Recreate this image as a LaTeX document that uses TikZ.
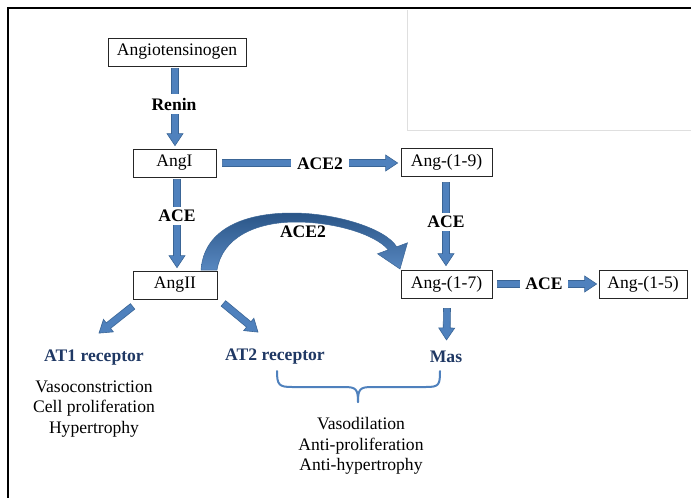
\documentclass[tikz,border=0pt]{standalone}
\usepackage{fontspec}
\setmainfont{Liberation Serif}
\usetikzlibrary{calc}
\definecolor{arrfill}{HTML}{4F81BD}
\definecolor{arrline}{HTML}{3A6596}
\definecolor{navy}{HTML}{1F3864}
\definecolor{arcdark}{HTML}{2A5587}
\tikzset{
  box/.style={draw=black!85, line width=0.8pt, inner sep=0pt, minimum height=28pt, font=\fontsize{17.6}{20}\selectfont},
  lab/.style={fill=white, inner xsep=6pt, inner ysep=3.5pt, font=\fontsize{17.6}{20}\selectfont\bfseries},
  rec/.style={inner sep=0pt, text=navy, font=\fontsize{17.6}{20}\selectfont\bfseries},
  txt/.style={inner sep=0pt, align=center, font=\fontsize{17.6}{20.5}\selectfont},
  blockarrow/.style={fill=arrfill, draw=arrline, line width=0.6pt, line join=miter},
}
\newcommand\blockarr[3][]{%
  \path let \p1=(#2), \p2=(#3) in \pgfextra{%
     \pgfmathsetmacro\tmpa{atan2(\y2-\y1,\x2-\x1)}%
     \pgfmathsetmacro\tmpl{veclen(\x2-\x1,\y2-\y1)}%
     \pgfmathsetmacro\tmpx{\x1}\pgfmathsetmacro\tmpy{\y1}%
     \xdef\baAng{\tmpa}\xdef\baLen{\tmpl}\xdef\baX{\tmpx}\xdef\baY{\tmpy}};
  \begin{scope}[shift={(\baX pt,\baY pt)}, rotate=\baAng]
    \filldraw[blockarrow,#1] (0pt,-3.5pt) -- ({\baLen pt-12pt},-3.5pt) -- ({\baLen pt-12pt},-8pt)
      -- (\baLen pt,0pt) -- ({\baLen pt-12pt},8pt) -- ({\baLen pt-12pt},3.5pt) -- (0pt,3.5pt) -- cycle;
  \end{scope}}
\begin{document}
\begin{tikzpicture}[x=1pt,y=-1pt]
\useasboundingbox (0,0) rectangle (691,498);
\fill[white] (0,0) rectangle (691,498);
% frame
\draw[gray!25, line width=0.8pt] (407,10) -- (407,130) -- (691,130);
\draw[black, line width=2.6pt] (691,8) -- (8,8) -- (8,498);
% boxes
\node[box, minimum width=138pt] (ag) at (177,52) {Angiotensinogen};
\node[box, minimum width=83pt] (a1) at (174.5,163) {AngI};
\node[box, minimum width=84pt] (a2) at (175,285) {AngII};
\node[box, minimum width=91pt] (a19) at (446.5,162) {Ang-(1-9)};
\node[box, minimum width=91pt] (a17) at (446.5,284) {Ang-(1-7)};
\node[box, minimum width=88pt] (a15) at (643,284) {Ang-(1-5)};
% receptor labels
\node[rec] (at1) at (94,358) {AT1 receptor};
\node[rec] (at2) at (275,357) {AT2 receptor};
\node[rec] (mas) at (446,357) {Mas};
\node[txt] (eff1) at (94,409) {Vasoconstriction\\Cell proliferation\\Hypertrophy};
\node[txt] (eff2) at (361,446) {Vasodilation\\Anti-proliferation\\Anti-hypertrophy};
% straight block arrows
\blockarr{$(ag.south)+(-2,2)$}{$(a1.north)+(0.5,-3)$}
\blockarr{$(a1.south)+(2.5,2)$}{$(a2.north)+(2,-3)$}
\blockarr{$(a1.east)+(6,0)$}{$(a19.west)+(-3,1)$}
\blockarr{$(a19.south)+(-0.5,6)$}{$(a17.north)+(-0.5,-4)$}
\blockarr{$(a17.east)+(5,0)$}{$(a15.west)+(-2,0)$}
\blockarr{$(a17.south)+(0.5,10)$}{$(mas.north)+(0.5,-11)$}
\blockarr{$(a2.south west)+(0,7)$}{$(at1.north)+(5,-17)$}
\blockarr{$(a2.south east)+(6,4)$}{$(at2.north)+(-17,-17)$}
% labels on arrows
\node[lab] (renin) at (174,104) {Renin};
\node[lab] (ace1) at (177,216) {ACE};
\node[lab] (ace2a) at (320,164) {ACE2};
\node[lab] (ace3) at (446,222) {ACE};
\node[lab, inner xsep=5pt] (ace4) at (544,284) {ACE};
% curved ACE2 arrow
\path[top color=arcdark, bottom color=arrfill!95, draw=arrline, line width=0.5pt, line join=miter]
  (201,270) .. controls (204,228) and (246,213) .. (292,213)
  .. controls (335,213) and (385,228) .. (396.7,246.8)
  -- (407.5,242.8) -- (400,269) -- (377.5,253.8) -- (388.3,249.8)
  .. controls (375,234) and (334,222) .. (296,222)
  .. controls (255,222) and (222,238) .. (217,270) -- cycle;
\node[lab, fill=none] (ace2b) at (303,232) {ACE2};
% brace
\draw[arrfill, line width=2pt, line cap=round]
  (277,371) .. controls (277,385) and (279,387) .. (292,387) -- (344,387)
  .. controls (356,387) and (358,389) .. (358,402);
\draw[arrfill, line width=2pt, line cap=round]
  (358,402) .. controls (358,389) and (360,387) .. (372,387) -- (426,387)
  .. controls (439,387) and (440,385) .. (440,371);
\end{tikzpicture}
\end{document}
